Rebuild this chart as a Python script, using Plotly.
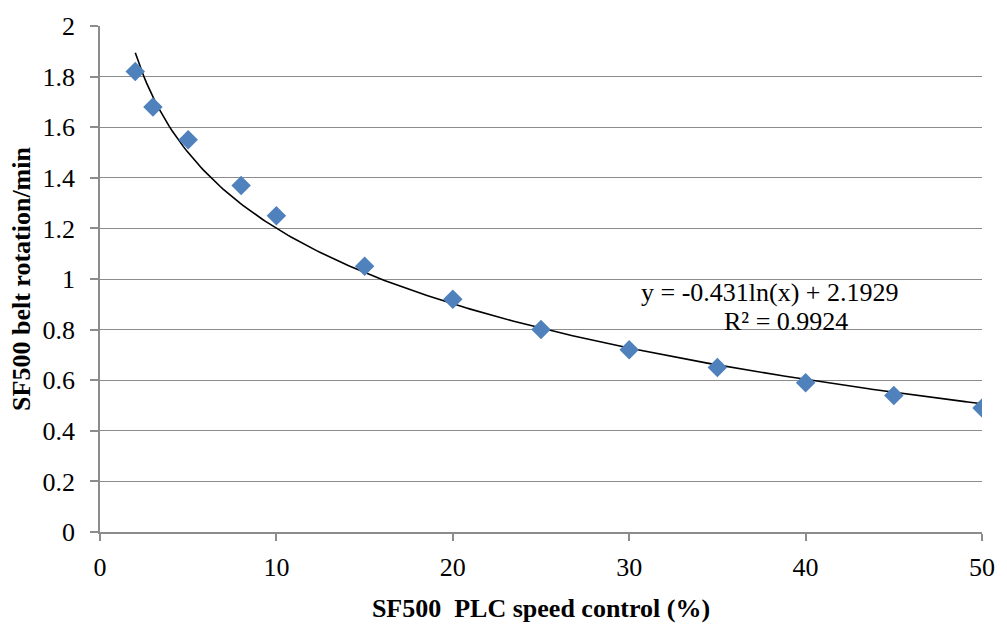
import numpy as np
import plotly.graph_objects as go

# Measured belt speed against PLC speed setting
speed_pct = [2, 3, 5, 8, 10, 15, 20, 25, 30, 35, 40, 45, 50]
rotation = [1.82, 1.68, 1.55, 1.37, 1.25, 1.05, 0.92, 0.80, 0.72, 0.65, 0.59, 0.54, 0.49]

# Logarithmic trendline coefficients: y = a*ln(x) + b
coef_a = -0.431
coef_b = 2.1929
r_squared = 0.9924

x_tick_vals = [0, 10, 20, 30, 40, 50]
y_tick_vals = [0, 0.2, 0.4, 0.6, 0.8, 1, 1.2, 1.4, 1.6, 1.8, 2]
y_tick_text = ["0", "0.2", "0.4", "0.6", "0.8", "1", "1.2", "1.4", "1.6", "1.8", "2"]

trend_x = np.linspace(min(speed_pct), max(speed_pct), 300)
trend_y = coef_a * np.log(trend_x) + coef_b

serif = "Liberation Serif"
fsize = 26
axis_grey = "#8c8c8c"

fig = go.Figure()
fig.add_trace(go.Scatter(
    x=trend_x, y=trend_y, mode="lines",
    line=dict(color="black", width=1.6),
    hoverinfo="skip", showlegend=False,
))
fig.add_trace(go.Scatter(
    x=speed_pct, y=rotation, mode="markers",
    marker=dict(symbol="diamond", size=15, color="#4F81BD",
                line=dict(width=0)),
    showlegend=False,
))

# Trendline equation and goodness of fit
fig.add_annotation(
    x=38.0, y=0.947, xref="x", yref="y",
    text=f"y = {coef_a}ln(x) + {coef_b}",
    showarrow=False, xanchor="center", yanchor="middle",
    font=dict(family=serif, size=fsize, color="black"),
)
fig.add_annotation(
    x=38.9, y=0.834, xref="x", yref="y",
    text=f"R² = {r_squared}",
    showarrow=False, xanchor="center", yanchor="middle",
    font=dict(family=serif, size=fsize, color="black"),
)

fig.update_layout(
    width=1007, height=631,
    margin=dict(l=100, r=19, t=20, b=99),
    plot_bgcolor="white", paper_bgcolor="white",
    font=dict(family=serif, size=fsize, color="black"),
)
fig.update_xaxes(
    range=[0, 50], tickvals=x_tick_vals,
    showgrid=False, zeroline=False,
    showline=True, linecolor=axis_grey, linewidth=1.5,
    ticks="outside", ticklen=7, tickcolor=axis_grey, tickwidth=1.5,
    ticklabelstandoff=4,
    tickfont=dict(family=serif, size=fsize),
    title=dict(text="<b>SF500  PLC speed control (%)</b>",
               font=dict(family=serif, size=fsize), standoff=18),
)
fig.update_yaxes(
    range=[0, 2], tickvals=y_tick_vals, ticktext=y_tick_text,
    showgrid=True, gridcolor=axis_grey, gridwidth=1.2,
    zeroline=False,
    showline=True, linecolor=axis_grey, linewidth=1.5,
    ticks="outside", ticklen=8, tickcolor=axis_grey, tickwidth=1.5,
    ticklabelstandoff=10,
    tickfont=dict(family=serif, size=fsize),
    title=dict(text="<b>SF500 belt rotation/min</b>",
               font=dict(family=serif, size=fsize), standoff=4),
)

fig.write_html("out.html")
